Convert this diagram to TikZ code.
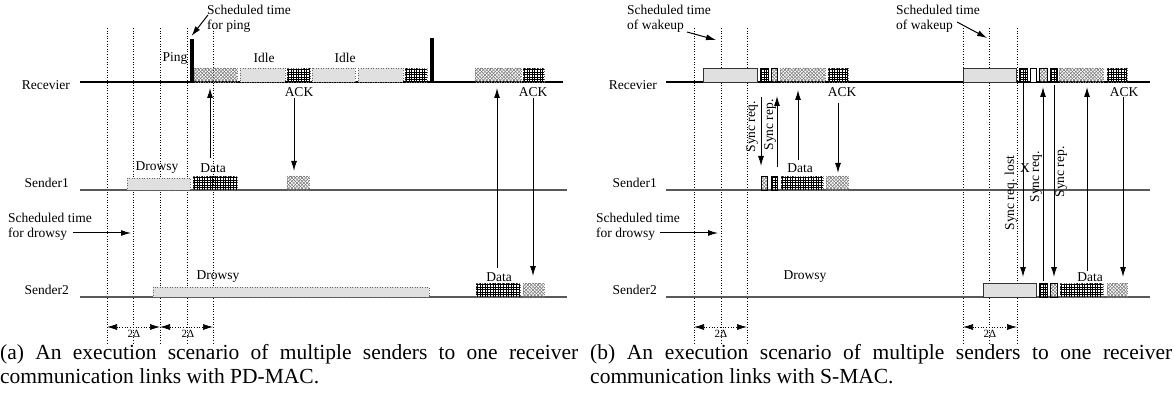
\documentclass[tikz,border=0pt]{standalone}
\usepackage{fontspec}
\setmainfont{Liberation Serif}
\usetikzlibrary{arrows.meta}
% crosshatch and grid fills drawn as clipped lines
\newcommand\myxhfill[4]{%
  \begin{scope}
    \clip (#1,#2) rectangle (#3,#4);
    \pgfmathsetmacro\hbH{#4-#2}
    \pgfmathsetmacro\hbS{#1-\hbH}
    \pgfmathsetmacro\hbT{\hbS+3.4}
    \foreach \t in {\hbS,\hbT,...,#3} {
      \draw[xhline] (\t,#4) -- ++(\hbH,-\hbH);
      \draw[xhline] (\t,#2) -- ++(\hbH,\hbH);
    }
  \end{scope}}
\newcommand\mygrfill[4]{%
  \begin{scope}
    \clip (#1,#2) rectangle (#3,#4);
    \pgfmathsetmacro\hbA{#1+1.3}
    \pgfmathsetmacro\hbB{#1+3.9}
    \pgfmathsetmacro\hbC{#2+1.3}
    \pgfmathsetmacro\hbD{#2+3.9}
    \foreach \t in {\hbA,\hbB,...,#3} \draw[grline] (\t,#2) -- (\t,#4);
    \foreach \t in {\hbC,\hbD,...,#4} \draw[grline] (#1,\t) -- (#3,\t);
  \end{scope}}
\newcommand\xhbox[5][xhb]{\myxhfill{#2}{#3}{#4}{#5}\draw[#1] (#2,#3) rectangle (#4,#5);}
\newcommand\grbox[5][grb]{\mygrfill{#2}{#3}{#4}{#5}\draw[#1] (#2,#3) rectangle (#4,#5);}
\begin{document}
\begin{tikzpicture}[x=1pt,y=-1pt,
  lbl/.style={font=\fontsize{13.5}{15}\selectfont, inner sep=0pt},
  lblml/.style={font=\fontsize{13.5}{15}\selectfont, inner sep=0pt, align=left, anchor=north west},
  smalllbl/.style={font=\fontsize{11}{12}\selectfont, inner sep=0pt},
  rcvline/.style={line width=1.2pt, black},
  sndline/.style={line width=1.2pt, black!65},
  vdot/.style={dotted, line width=0.6pt},
  arr/.style={line width=1pt, -{Latex[length=10pt,width=6pt]}},
  dimarr/.style={dotted, line width=0.7pt, {Latex[length=10pt,width=6pt]}-{Latex[length=10pt,width=6pt]}},
  idle/.style={fill=black!12, draw=black!60, dotted, line width=0.5pt},
  sbox/.style={fill=black!12, draw=black!80, line width=0.8pt},
  xhline/.style={black!55, line width=0.5pt},
  grline/.style={black, line width=0.55pt},
  xhb/.style={draw=black!50, dotted, line width=0.5pt},
  grb/.style={draw=black!60, dotted, line width=0.5pt},
  solidb/.style={draw=black, line width=0.7pt},
  wbox/.style={fill=white, draw=black, line width=0.7pt},
  pingbar/.style={fill=black, draw=none},
  capt/.style={anchor=base west, inner sep=0pt},
]
\useasboundingbox (0,0) rectangle (1174,395);

% ================= Panel (a) =================
\foreach \x in {107,133,160,187,213} \draw[vdot] (\x,28) -- (\x,345);

\coordinate (aR0) at (80,82);  \coordinate (aR1) at (563,82);
\coordinate (aS10) at (80,190); \coordinate (aS11) at (567,190);
\coordinate (aS20) at (80,297); \coordinate (aS21) at (567,297);
\draw[rcvline] (aR0) -- (aR1);
\draw[sndline] (aS10) -- (aS11);
\draw[sndline] (aS20) -- (aS21);

\node[lbl, anchor=east] (aRl) at (70,85) {Recevier};
\node[lbl, anchor=east] (aS1l) at (69,183) {Sender1};
\node[lbl, anchor=east] (aS2l) at (69,290) {Sender2};

% receiver activity
\fill[pingbar] (190,39) rectangle (194,82);
\fill[pingbar] (430,38) rectangle (434,82);
\xhbox{194}{68}{237}{82}
\draw[idle] (240,68) rectangle (285,82);
\grbox{287}{68}{310}{82}
\draw[idle] (312,68) rectangle (355,82);
\draw[idle] (358,68) rectangle (403,82);
\grbox{405}{68}{427}{82}
\xhbox{475}{68}{521}{82}
\grbox{523}{68}{544}{82}

\node[lbl] (aPing) at (175,58) {Ping};
\node[lbl] (aIdle1) at (264,58) {Idle};
\node[lbl] (aIdle2) at (345,58) {Idle};
\node[lbl] (aAck1) at (299,92) {ACK};
\node[lbl] (aAck2) at (533,92) {ACK};

\node[lblml] (aSchedPing) at (207,5) {Scheduled time\\for ping};
\coordinate (aPingA) at (208,15); \coordinate (aPingB) at (191.5,36);
\draw[arr] (aPingA) -- (aPingB);

% sender1 activity
\draw[idle] (127,178) rectangle (190,190);
\grbox{193}{176}{237}{190}
\xhbox{287}{176}{309}{190}
\node[lbl] (aDrowsy1) at (157,168) {Drowsy};
\node[lbl] (aData1) at (213,168) {Data};
\coordinate (aD1a) at (210,158); \coordinate (aD1b) at (210,88);
\draw[arr] (aD1a) -- (aD1b);
\coordinate (aK1a) at (294,98); \coordinate (aK1b) at (294,171);
\draw[arr] (aK1a) -- (aK1b);

% sender2 activity
\draw[idle] (153,287) rectangle (429,297);
\grbox{476}{283}{520}{297}
\xhbox{523}{283}{544}{297}
\node[lbl] (aDrowsy2) at (218,277) {Drowsy};
\node[lbl] (aData2) at (499,277) {Data};
\coordinate (aD2a) at (497,268); \coordinate (aD2b) at (497,88);
\draw[arr] (aD2a) -- (aD2b);
\coordinate (aK2a) at (533,98); \coordinate (aK2b) at (533,276);
\draw[arr] (aK2a) -- (aK2b);

\node[lblml] (aSchedDrowsy) at (8,213) {Scheduled time\\for drowsy};
\coordinate (aSDa) at (73,233); \coordinate (aSDb) at (131,233);
\draw[arr] (aSDa) -- (aSDb);

\coordinate (aM1) at (107,327); \coordinate (aM2) at (160,327); \coordinate (aM3) at (213,327);
\draw[dimarr] (aM1) -- (aM2);
\draw[dimarr] (aM2) -- (aM3);
\node[smalllbl] (aDelta1) at (134,334) {2Δ};
\node[smalllbl] (aDelta2) at (188,334) {2Δ};

\node[capt] (capA) at (0,359) {\parbox[t]{578pt}{\fontsize{21.5}{24}\selectfont\hyphenpenalty=10000 \tolerance=10000 (a) An execution scenario of multiple senders to one receiver communication links with PD-MAC.}};

% ================= Panel (b) =================
\foreach \x in {694,721,747,963,989,1017} \draw[vdot] (\x,28) -- (\x,345);

\coordinate (bR0) at (666,82);  \coordinate (bR1) at (1150,82);
\coordinate (bS10) at (666,190); \coordinate (bS11) at (1150,190);
\coordinate (bS20) at (666,297); \coordinate (bS21) at (1150,297);
\draw[rcvline] (bR0) -- (bR1);
\draw[sndline] (bS10) -- (bS11);
\draw[sndline] (bS20) -- (bS21);

\node[lbl, anchor=east] (bRl) at (657,85) {Recevier};
\node[lbl, anchor=east] (bS1l) at (657,183) {Sender1};
\node[lbl, anchor=east] (bS2l) at (657,290) {Sender2};

% receiver
\draw[sbox] (703,68) rectangle (757,82);
\grbox[solidb]{760}{68}{768}{82}
\xhbox[solidb]{771}{68}{777}{82}
\xhbox{780}{68}{825}{82}
\grbox{828}{68}{848}{82}
\draw[sbox] (963,68) rectangle (1016,82);
\grbox[solidb]{1019}{68}{1027}{82}
\draw[wbox] (1030,68) rectangle (1036,82);
\xhbox[solidb]{1039}{68}{1047}{82}
\grbox[solidb]{1050}{68}{1057}{82}
\xhbox{1059}{68}{1103}{82}
\grbox{1107}{68}{1127}{82}
\node[lbl] (bAck1) at (842,92) {ACK};
\node[lbl] (bAck2) at (1124,92) {ACK};

\node[lblml] (bSched1) at (627,5) {Scheduled time\\of wakeup};
\coordinate (bW1a) at (687,32); \coordinate (bW1b) at (716,40);
\draw[arr] (bW1a) -- (bW1b);
\node[lblml] (bSched2) at (896,5) {Scheduled time\\of wakeup};
\coordinate (bW2a) at (957,22); \coordinate (bW2b) at (987,38);
\draw[arr] (bW2a) -- (bW2b);

% sender1
\xhbox[solidb]{761}{176}{767}{190}
\grbox[solidb]{771}{176}{777}{190}
\grbox{781}{176}{823}{190}
\xhbox{826}{176}{848}{190}
\node[lbl] (bData1) at (800,168) {Data};

\coordinate (bQ1a) at (761,97); \coordinate (bQ1b) at (761,166);
\draw[arr] (bQ1a) -- (bQ1b);
\node[lbl, rotate=90] (bQ1l) at (752,127) {Sync req.};
\coordinate (bP1a) at (777,167); \coordinate (bP1b) at (777,96);
\draw[arr] (bP1a) -- (bP1b);
\node[lbl, rotate=90] (bP1l) at (770,125) {Sync rep.};
\coordinate (bD1a) at (798,160); \coordinate (bD1b) at (798,90);
\draw[arr] (bD1a) -- (bD1b);
\coordinate (bK1a) at (838,103); \coordinate (bK1b) at (838,173);
\draw[arr] (bK1a) -- (bK1b);

% sender2
\draw[sbox] (983,283) rectangle (1036,297);
\grbox[solidb]{1039}{283}{1047}{297}
\xhbox[solidb]{1050}{283}{1057}{297}
\grbox{1060}{283}{1103}{297}
\xhbox{1107}{283}{1127}{297}
\node[lbl] (bData2) at (1090,277) {Data};
\node[lbl] (bDrowsy) at (805,277) {Drowsy};

\coordinate (bL2a) at (1023,83); \coordinate (bL2b) at (1023,277);
\draw[arr] (bL2a) -- (bL2b);
\node[lbl, rotate=90] (bL2l) at (1011,193) {Sync req. lost};
\node[lbl] (bX) at (1025,168) {X};
\coordinate (bQ2a) at (1043,281); \coordinate (bQ2b) at (1043,87);
\draw[arr] (bQ2a) -- (bQ2b);
\node[lbl, rotate=90] (bQ2l) at (1036,177) {Sync req.};
\coordinate (bP2a) at (1054,85); \coordinate (bP2b) at (1054,277);
\draw[arr] (bP2a) -- (bP2b);
\node[lbl, rotate=90] (bP2l) at (1061,172) {Sync rep.};
\coordinate (bD2a) at (1087,271); \coordinate (bD2b) at (1087,87);
\draw[arr] (bD2a) -- (bD2b);
\coordinate (bK2a) at (1123,97); \coordinate (bK2b) at (1123,277);
\draw[arr] (bK2a) -- (bK2b);

\node[lblml] (bSchedDrowsy) at (596,213) {Scheduled time\\for drowsy};
\coordinate (bSDa) at (660,233); \coordinate (bSDb) at (718,233);
\draw[arr] (bSDa) -- (bSDb);

\coordinate (bM1) at (694,327); \coordinate (bM2) at (747,327);
\coordinate (bM3) at (963,327); \coordinate (bM4) at (1017,327);
\draw[dimarr] (bM1) -- (bM2);
\draw[dimarr] (bM3) -- (bM4);
\node[smalllbl] (bDelta1) at (721,334) {2Δ};
\node[smalllbl] (bDelta2) at (990,334) {2Δ};

\node[capt] (capB) at (590,359) {\parbox[t]{582pt}{\fontsize{21.5}{24}\selectfont\hyphenpenalty=10000 \tolerance=10000 (b) An execution scenario of multiple senders to one receiver communication links with S-MAC.}};
\end{tikzpicture}
\end{document}
